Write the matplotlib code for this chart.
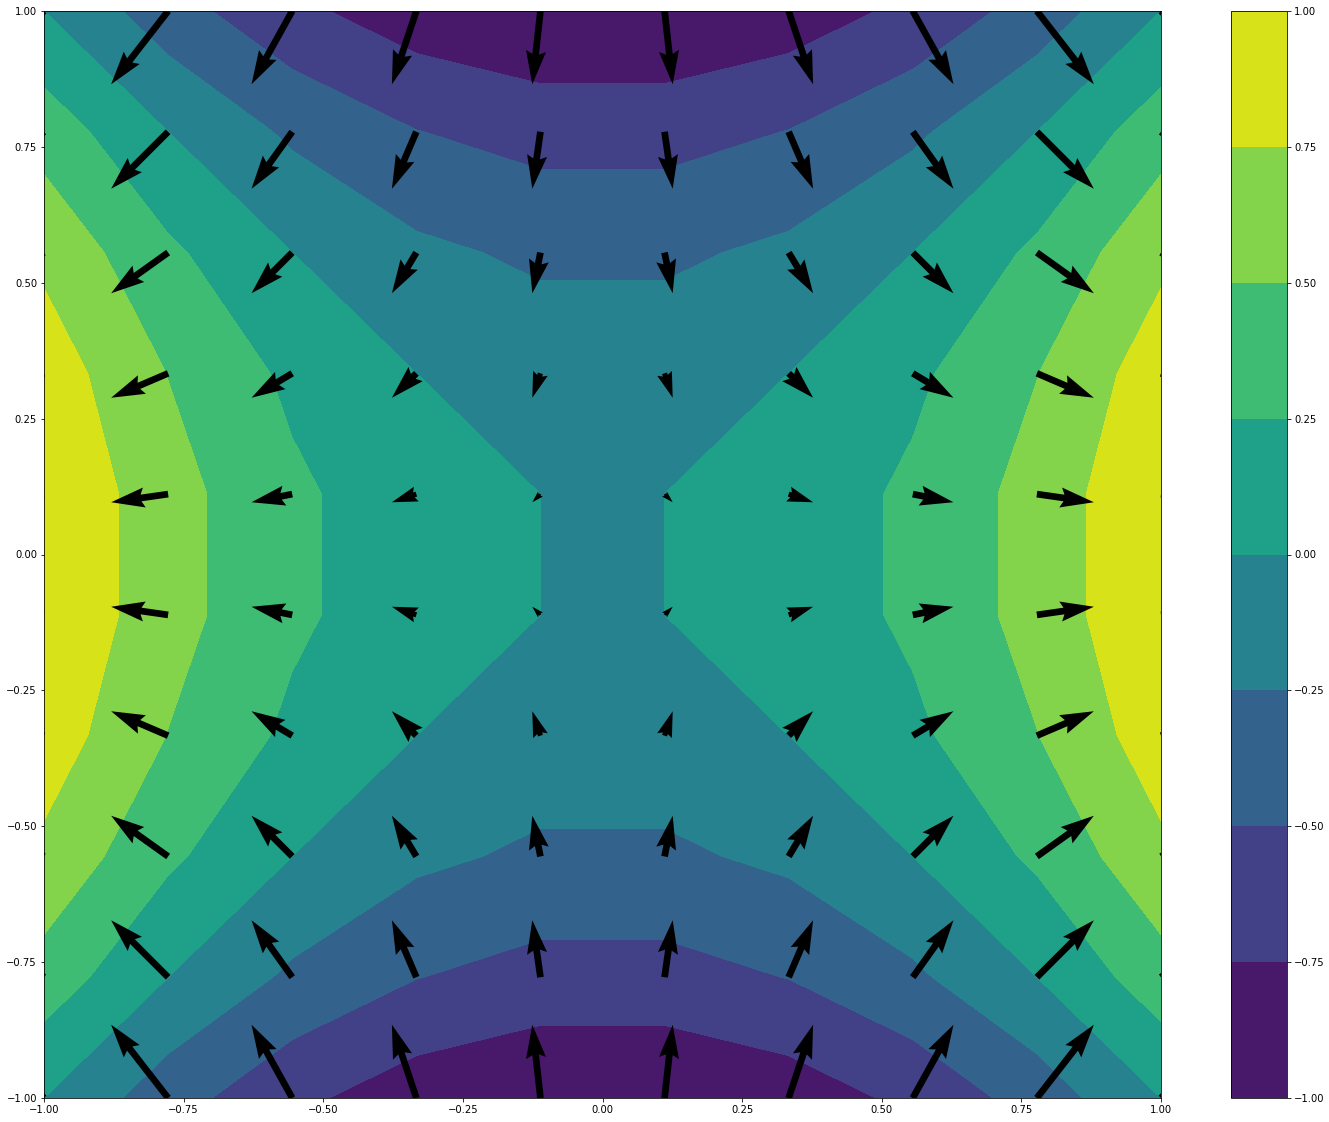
import numpy as np
import matplotlib
matplotlib.use("Agg")
import matplotlib.pyplot as plt

# grid and field
x_vals = np.linspace(-1, 1, 10)
y_vals = np.linspace(-1, 1, 10)
X, Y = np.meshgrid(x_vals, y_vals)
Z = X**2 - Y**2
U = 2 * X
V = -2 * Y

levels = [-1.0, -0.75, -0.5, -0.25, 0.0, 0.25, 0.5, 0.75, 1.0]

W, H = 1329, 1122
fig = plt.figure(figsize=(W / 72, H / 72), dpi=72)
ax = fig.add_axes([44 / W, (H - 1098) / H, 1117 / W, 1087 / H])
cax = fig.add_axes([1231 / W, (H - 1098) / H, 56 / W, 1087 / H])

cs = ax.contourf(X, Y, Z, levels=levels, cmap="viridis")
ax.quiver(X, Y, U, V)
ax.set_xlim(-1, 1)
ax.set_ylim(-1, 1)
fig.colorbar(cs, cax=cax)

fig.savefig("out.png", dpi=72)
